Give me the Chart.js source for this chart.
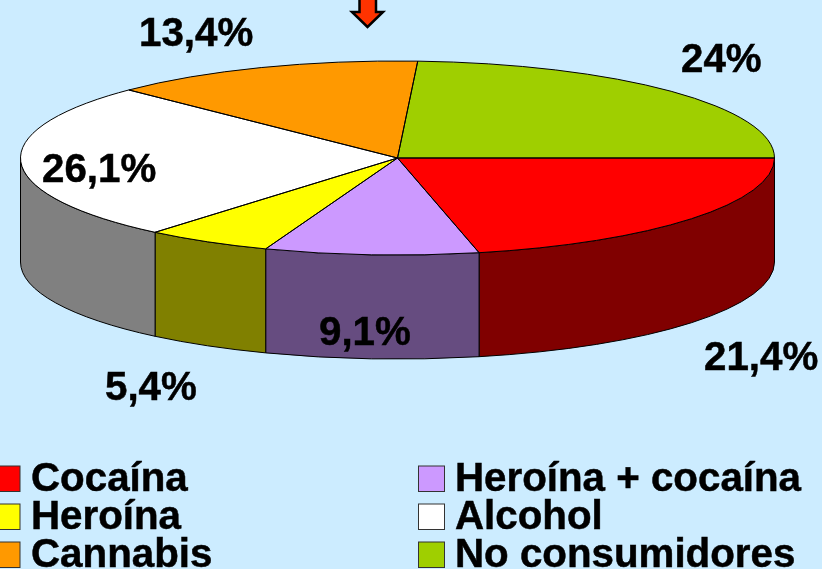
<!DOCTYPE html>
<html lang="es">
<head>
<meta charset="utf-8">
<title>Consumo</title>
<script src="https://cdn.jsdelivr.net/npm/chart.js@4"></script>
<style>
html,body{margin:0;padding:0;background:#CCECFF;overflow:hidden}
canvas{display:block}
</style>
</head>
<body>
<canvas id="c" width="822" height="569"></canvas>
<script>
const categories = ['Cocaína','Heroína + cocaína','Heroína','Alcohol','Cannabis','No consumidores'];
const values = [21.4, 9.1, 5.4, 26.1, 13.4, 24];
const topColors = ['#FF0000','#CC99FF','#FFFF00','#FFFFFF','#FF9900','#9FCF00'];
const wallColors = ['#800000','#664C80','#808000','#808080','#804C00','#506800'];
const labelAnchors = [[704,370],[319,345],[105,400],[42,182],[139,46],[681,72]];
const legendSlots = [[-6,466,31,491],[418.5,466,455,491],[-6,504,31,529],[418.5,504,455,529],[-6,542,31,567],[418.5,542,455,567]];
const arrowShape = [[359.5,-2],[376,-2],[376,12],[383,12],[367.5,27],[352,12],[359.5,12]];
const FONT = 'bold 40.3px "Liberation Sans", Arial, sans-serif';
const RX = 377, RY = 97, DEPTH = 104;

function heavyText(ctx, text, x, y) {
  ctx.fillText(text, x, y);
  ctx.lineWidth = 0.5;
  ctx.strokeStyle = '#000';
  ctx.strokeText(text, x, y);
}

const pie3d = {
  id: 'pie3d',
  beforeDatasetsDraw(chart) {
    const ctx = chart.ctx, arcs = chart.getDatasetMeta(0).data;
    const cx = arcs[0].x, cy = arcs[0].y, R = arcs[0].outerRadius;
    arcs.forEach((arc, i) => {
      const a0 = arc.startAngle, a1 = Math.min(arc.endAngle, Math.PI);
      if (a0 >= Math.PI) return;
      ctx.beginPath();
      ctx.ellipse(cx, cy, RX, RY, 0, a0, a1);
      ctx.ellipse(cx, cy + DEPTH, RX, RY, 0, a1, a0, true);
      ctx.closePath();
      ctx.fillStyle = wallColors[i];
      ctx.fill();
      ctx.lineWidth = 1;
      ctx.strokeStyle = '#000';
      ctx.stroke();
    });
    ctx.save();
    ctx.translate(cx, cy);
    ctx.scale(RX / R, RY / R);
    ctx.translate(-cx, -cy);
  },
  afterDatasetsDraw(chart) {
    const ctx = chart.ctx, arcs = chart.getDatasetMeta(0).data;
    ctx.restore();
    const cx = arcs[0].x, cy = arcs[0].y;
    ctx.lineWidth = 1;
    ctx.strokeStyle = '#000';
    arcs.forEach(arc => {
      ctx.beginPath();
      ctx.moveTo(cx, cy);
      ctx.ellipse(cx, cy, RX, RY, 0, arc.startAngle, arc.endAngle);
      ctx.closePath();
      ctx.stroke();
    });
    ctx.fillStyle = '#000';
    ctx.font = FONT;
    ctx.textAlign = 'left';
    ctx.textBaseline = 'alphabetic';
    values.forEach((v, i) => {
      heavyText(ctx, String(v).replace('.', ',') + '%', labelAnchors[i][0], labelAnchors[i][1]);
    });
    categories.forEach((name, i) => {
      const [bx, by, tx, ty] = legendSlots[i];
      ctx.fillStyle = topColors[i];
      ctx.fillRect(bx, by, 26, 25.5);
      ctx.strokeStyle = '#333';
      ctx.lineWidth = 1;
      ctx.strokeRect(bx, by, 26, 25.5);
      ctx.fillStyle = '#000';
      heavyText(ctx, name, tx, ty);
    });
    ctx.beginPath();
    arrowShape.forEach((p, i) => i ? ctx.lineTo(p[0], p[1]) : ctx.moveTo(p[0], p[1]));
    ctx.closePath();
    ctx.fillStyle = '#FF3300';
    ctx.fill();
    ctx.lineWidth = 2.5;
    ctx.strokeStyle = '#000';
    ctx.stroke();
  }
};

new Chart(document.getElementById('c'), {
  type: 'pie',
  data: {
    labels: categories,
    datasets: [{ data: values, backgroundColor: topColors, borderWidth: 0, clip: false }]
  },
  options: {
    responsive: false,
    animation: false,
    rotation: 90,
    layout: { padding: { left: 0, top: 0, right: 27, bottom: 253 } },
    plugins: { legend: { display: false }, tooltip: { enabled: false } }
  },
  plugins: [pie3d]
});
</script>
</body>
</html>
